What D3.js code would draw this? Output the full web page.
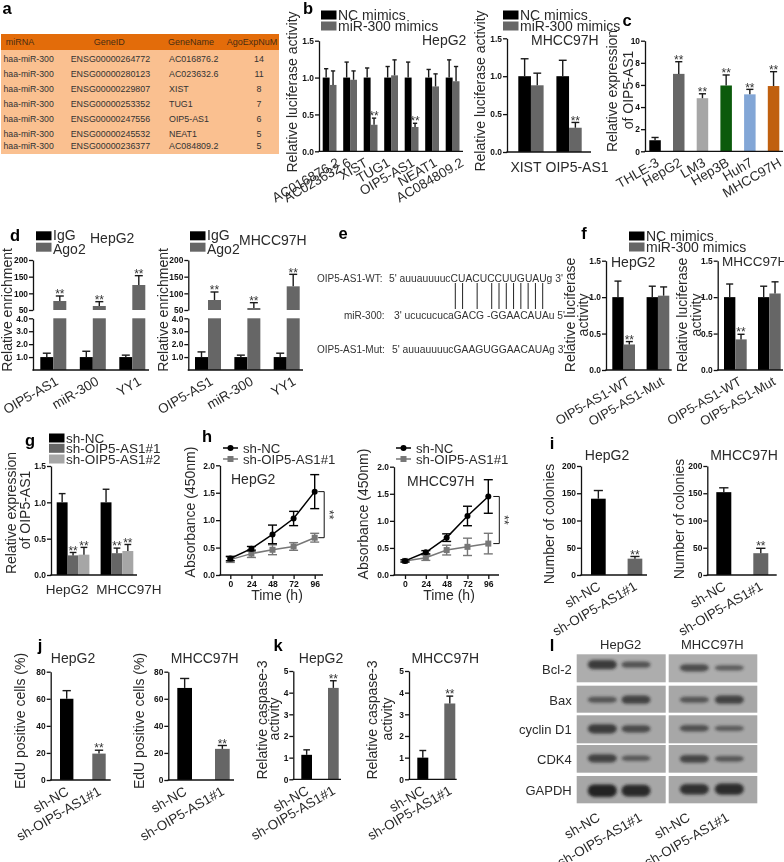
<!DOCTYPE html>
<html><head><meta charset="utf-8">
<style>html,body{margin:0;padding:0;background:#fff}svg{display:block;filter:blur(.45px)}text{font-family:"Liberation Sans",Arial,sans-serif}</style>
<script src="https://d3js.org/d3.v7.min.js"></script></head><body>
<script>
// ---------- data ----------
const tableHeader = ["miRNA","GeneID","GeneName","AgoExpNuM"];
const tableMirna = ["haa-miR-300","haa-miR-300","haa-miR-300","haa-miR-300","haa-miR-300","haa-miR-300","haa-miR-300"];
const tableGeneId = ["ENSG00000264772","ENSG00000280123","ENSG00000229807","ENSG00000253352","ENSG00000247556","ENSG00000245532","ENSG00000236377"];
const tableGeneName = ["AC016876.2","AC023632.6","XIST","TUG1","OIP5-AS1","NEAT1","AC084809.2"];
const tableAgo = [14,11,8,7,6,5,5];

const mimicNames = ["NC mimics","miR-300 mimics"];
const bCats = ["AC016876.2","AC023632.6","XIST","TUG1","OIP5-AS1","NEAT1","AC084809.2"];
const bNC = [1,1,1,1,1,1,1];
const bNCup = [1.12,1.21,1.13,1.15,1.21,1.11,1.24];
const bMiR = [0.90,0.97,0.36,1.03,0.33,0.88,0.95];
const bMiRup = [1.09,1.09,0.45,1.24,0.38,1.05,1.15];
const bSig = [0,0,1,0,1,0,0];
const b2Cats = ["XIST","OIP5-AS1"];
const b2NC = [1,1];
const b2NCup = [1.23,1.21];
const b2MiR = [0.88,0.32];
const b2MiRup = [1.04,0.39];
const b2Sig = [0,1];

const cCats = ["THLE-3","HepG2","LM3","Hep3B","Huh7","MHCC97H"];
const cVals = [1,7,4.8,5.95,5.15,5.9];
const cUp = [1.25,8.1,5.2,6.9,5.6,7.2];
const cSig = [0,1,1,1,1,1];

const dNames = ["IgG","Ago2"];
const dCats = ["OIP5-AS1","miR-300","YY1"];
const d1IgG = [1,1,1];
const d1IgGup = [1.3,1.45,1.15];
const d1Ago = [77,62,125];
const d1AgoUp = [92,75,153];
const d2IgG = [1,1,1];
const d2IgGup = [1.4,1.15,1.3];
const d2Ago = [80,56,121];
const d2AgoUp = [104,72,157];

const eWT = "5' auuauuuucCUACUCCUUGUAUg 3'";
const eMiR = "3' ucucucucaGACG -GGAACAUAu 5'";
const eMut = "5' auuauuuucGAAGUGGAACAUAg 3'";
const ePairs = [0,1,3,5,6,7,8,9,10,11,12];

const fCats = ["OIP5-AS1-WT","OIP5-AS1-Mut"];
const f1NC = [1,1];
const f1NCup = [1.22,1.15];
const f1MiR = [0.35,1.02];
const f1MiRup = [0.39,1.14];
const f2NC = [1,1];
const f2NCup = [1.18,1.15];
const f2MiR = [0.42,1.05];
const f2MiRup = [0.49,1.21];
const fSig = [1,0];

const gNames = ["sh-NC","sh-OIP5-AS1#1","sh-OIP5-AS1#2"];
const gCats = ["HepG2","MHCC97H"];
const gNC = [1,1];
const gNCup = [1.12,1.18];
const gS1 = [0.27,0.30];
const gS1up = [0.31,0.37];
const gS2 = [0.28,0.33];
const gS2up = [0.38,0.42];

const hTimes = [0,24,48,72,96];
const h1NC = [0.30,0.48,0.74,1.03,1.52];
const h1NCerr = [0.04,0.04,0.17,0.13,0.31];
const h1Sh = [0.28,0.39,0.46,0.52,0.68];
const h1ShErr = [0.05,0.07,0.09,0.07,0.08];
const h2NC = [0.26,0.42,0.69,1.09,1.45];
const h2NCerr = [0.02,0.03,0.07,0.18,0.31];
const h2Sh = [0.26,0.32,0.46,0.52,0.58];
const h2ShErr = [0.02,0.05,0.09,0.16,0.19];

const shCats = ["sh-NC","sh-OIP5-AS1#1"];
const i1Vals = [140,30];
const i1Up = [155,34];
const i2Vals = [152,40];
const i2Up = [160,49];
const j1Vals = [60,19.5];
const j1Up = [66,22];
const j2Vals = [68,23];
const j2Up = [75,25.5];
const k1Vals = [1.13,4.22];
const k1Up = [1.36,4.55];
const k2Vals = [1,3.5];
const k2Up = [1.33,3.84];
const shSig = [0,1];

const blotProteins = ["Bcl-2","Bax","cyclin D1","CDK4","GAPDH"];
const blotHepNC = [0.72,0.40,0.70,0.62,1.00];
const blotHepSh = [0.45,0.62,0.52,0.36,0.92];
const blotMhNC = [0.52,0.40,0.46,0.58,0.82];
const blotMhSh = [0.34,0.62,0.34,0.38,0.88];

// ---------- helpers ----------
const svg = d3.select("body").append("svg").attr("width",784).attr("height",862).attr("viewBox","0 0 784 862");
const BLACK="#000", GREY="#666666", LGREY="#a6a6a6", TXT="#2a2a2a";
const defs = svg.append("defs");
defs.append("filter").attr("id","bandblur").attr("x","-30%").attr("y","-80%").attr("width","160%").attr("height","260%")
  .append("feGaussianBlur").attr("stdDeviation",1.5);

function label(x,y,s,o={}){
  return svg.append("text").attr("transform",`translate(${x},${y})`+(o.rot?` rotate(${o.rot})`:""))
   .attr("font-size",o.size||14).attr("font-weight",o.weight||"normal").attr("fill",o.fill||TXT)
   .attr("text-anchor",o.anchor||"start").attr("dominant-baseline",o.base||"central").text(s);
}
const ylab=(x,y,s,size)=>label(x,y,s,{rot:-90,anchor:"middle",size:size||14});
const letter=(x,y,s)=>label(x,y,s,{size:16.5,weight:"bold",fill:"#000",anchor:"middle"});

function styleAxis(sel,size){
  sel.attr("font-family",null);
  sel.selectAll("text").attr("font-size",size||8.4).attr("font-weight","bold").attr("fill","#111").style("font-family",'"Liberation Sans"');
  sel.selectAll("path,line").attr("stroke","#111").attr("stroke-width",1.3);
}
function errorBar(g,x,y0,y1,capW,color){
  g.append("line").attr("x1",x).attr("x2",x).attr("y1",y0).attr("y2",y1).attr("stroke",color).attr("stroke-width",1.4);
  g.append("line").attr("x1",x-capW/2).attr("x2",x+capW/2).attr("y1",y1).attr("y2",y1).attr("stroke",color).attr("stroke-width",1.4);
}
function stars(g,x,capY){
  g.append("text").attr("x",x).attr("y",capY+2.2).attr("text-anchor","middle").attr("font-size",12).attr("fill","#333").text("**");
}
function groupScale(cats,L,R,w){
  const step=(R-L-w)/(cats.length-1);
  return d3.scaleBand().domain(cats).range([L,R]).paddingInner(1-w/step).paddingOuter(0).align(0);
}
// x labels under a plot, through d3's band axis
function xLabels(g,x,base,o){
  const ax=g.append("g").attr("transform",`translate(0,${base})`).call(d3.axisBottom(x).tickSize(0));
  ax.select(".domain").remove();
  ax.selectAll("text").attr("font-size",o.size||13.5).attr("font-weight","normal").attr("fill",TXT)
    .style("font-family",'"Liberation Sans"').attr("y",0).attr("dy",0).attr("text-anchor",o.rot?"end":"middle")
    .attr("transform",(d,i)=>`translate(${(o.dx||0)+(o.shift?o.shift[i]:0)},${(o.dy==null?14:o.dy)}) rotate(${o.rot||0})`);
}
function barPanel(o){
  const g=svg.append("g");
  const y=d3.scaleLinear().domain([0,o.max]).range([o.base,o.top]);
  const x=groupScale(o.cats,o.L,o.R,o.w);
  const inner=d3.scaleBand().domain(o.series.map(s=>s.name)).range([0,x.bandwidth()]);
  o.series.forEach(s=>{
    o.cats.forEach((c,i)=>{
      const bx=x(c)+inner(s.name), col=s.colors?s.colors[i]:s.color;
      g.append("rect").attr("x",bx).attr("width",inner.bandwidth()).attr("y",y(s.values[i])).attr("height",y(0)-y(s.values[i])).attr("fill",col);
      errorBar(g,bx+inner.bandwidth()/2,y(s.values[i]),y(s.up[i]),inner.bandwidth()*0.62,"#1a1a1a");
      if(s.sig&&s.sig[i]) stars(g,bx+inner.bandwidth()/2,y(s.up[i]));
    });
  });
  const ay=g.append("g").attr("transform",`translate(${o.ax},0)`).call(d3.axisLeft(y).tickValues(o.ticks).tickFormat(o.fmt||d3.format("d")).tickSize(4).tickSizeOuter(0).tickPadding(1));
  styleAxis(ay);
  g.append("line").attr("x1",o.ax-.6).attr("x2",o.end).attr("y1",o.base).attr("y2",o.base).attr("stroke","#111").attr("stroke-width",1.3);
  xLabels(g,x,o.base,o.labels);
  return {x,y,g};
}
function legend(x,ys,names,colors,o={}){
  names.forEach((n,i)=>{
    svg.append("rect").attr("x",x).attr("y",ys[i]-4.5).attr("width",o.sw||15.5).attr("height",9).attr("fill",colors[i]);
    label(x+(o.sw||15.5)+1.5,o.tys?o.tys[i]:ys[i],n,{size:o.size||14});
  });
}

// ---------- a: table ----------
svg.append("rect").attr("x",1).attr("y",34).attr("width",278).attr("height",120).attr("fill","#fac090");
svg.append("rect").attr("x",1).attr("y",34).attr("width",278).attr("height",16).attr("fill","#e36c0a");
[5.7,93.7,168,226.7].forEach((x,i)=>label(x,42.3,tableHeader[i],{size:9,fill:"#4a2c12"}));
const rowY=[58.7,74.3,89.3,103.7,118.7,133.7,146];
rowY.forEach((y,i)=>{
  label(3.5,y,tableMirna[i],{size:8.7,fill:"#333"});
  label(70.7,y,tableGeneId[i],{size:8.9,fill:"#333"});
  label(169,y,tableGeneName[i],{size:8.9,fill:"#333"});
  label(259,y,tableAgo[i],{size:8.9,fill:"#333",anchor:"middle"});
});
letter(7,8,"a");letter(308,8,"b");letter(627,20,"c");letter(15,235,"d");letter(343,233,"e");letter(584,233,"f");
letter(30,440,"g");letter(207,436,"h");letter(552,443,"i");letter(40,645,"j");letter(278,645,"k");letter(552,645,"l");

// ---------- b ----------
const f1=d3.format(".1f");
barPanel({cats:bCats,max:1.5,top:40.7,base:151.3,ax:319,end:463,L:322.7,R:459.5,w:13.8,ticks:[0,.5,1,1.5],fmt:f1,
 series:[{name:mimicNames[0],values:bNC,up:bNCup,color:BLACK},{name:mimicNames[1],values:bMiR,up:bMiRup,color:GREY,sig:bSig}],
 labels:{rot:-30,dx:4,shift:[7,-2,-6,-4,0,2,8]}});
legend(321,[15,26],mimicNames,[BLACK,GREY]);
label(422,40,"HepG2");
ylab(292,92,"Relative luciferase activity");
barPanel({cats:b2Cats,max:1.5,top:38.3,base:152,ax:507,end:591,L:518.3,R:581.7,w:25.3,ticks:[0,.5,1,1.5],fmt:f1,
 series:[{name:mimicNames[0],values:b2NC,up:b2NCup,color:BLACK},{name:mimicNames[1],values:b2MiR,up:b2MiRup,color:GREY,sig:b2Sig}],
 labels:{dy:20,size:14,shift:[-5,8]}});
legend(503,[15,26],mimicNames,[BLACK,GREY]);
label(531,40,"MHCC97H");
ylab(480,91,"Relative luciferase activity");

// ---------- c ----------
barPanel({cats:cCats,max:10,top:40.7,base:151.3,ax:645,end:783,L:649.3,R:779.3,w:11.5,ticks:[0,2,4,6,8,10],
 series:[{name:"expr",values:cVals,up:cUp,colors:[BLACK,GREY,LGREY,"#0b5a0b","#82a6d6","#c0600f"],sig:cSig}],
 labels:{rot:-30,dx:4,shift:[1,0,0,0,0,5]}});
ylab(612,91,"Relative expression");ylab(628,90,"of OIP5-AS1");

// ---------- d ----------
function brokenPanel(o){
  const g=svg.append("g");
  const yLow=d3.scaleLinear().domain([0,4]).range([370,318.3]);
  const yHigh=d3.scaleLinear().domain([50,200]).range([310,260]);
  const x=groupScale(dCats,o.L,o.R,o.w);
  const inner=d3.scaleBand().domain(dNames).range([0,x.bandwidth()]);
  dCats.forEach((c,i)=>{
    const bx=x(c);
    g.append("rect").attr("x",bx).attr("width",inner.bandwidth()).attr("y",yLow(o.igg[i])).attr("height",yLow(0)-yLow(o.igg[i])).attr("fill",BLACK);
    errorBar(g,bx+inner.bandwidth()/2,yLow(o.igg[i]),yLow(o.iggUp[i]),8,"#1a1a1a");
    const bx2=bx+inner(dNames[1]);
    g.append("rect").attr("x",bx2).attr("width",inner.bandwidth()).attr("y",yLow(4)).attr("height",yLow(0)-yLow(4)).attr("fill",GREY);
    g.append("rect").attr("x",bx2).attr("width",inner.bandwidth()).attr("y",yHigh(o.ago[i])).attr("height",yHigh(50)-yHigh(o.ago[i])).attr("fill",GREY);
    errorBar(g,bx2+inner.bandwidth()/2,yHigh(o.ago[i]),yHigh(o.agoUp[i]),8,"#1a1a1a");
    stars(g,bx2+inner.bandwidth()/2,yHigh(o.agoUp[i]));
  });
  styleAxis(g.append("g").attr("transform",`translate(${o.ax},0)`).call(d3.axisLeft(yHigh).tickValues([50,100,150,200]).tickSize(4).tickSizeOuter(0).tickPadding(1)));
  styleAxis(g.append("g").attr("transform",`translate(${o.ax},0)`).call(d3.axisLeft(yLow).tickValues([1,2,3,4]).tickSize(4).tickSizeOuter(0).tickPadding(1)));
  g.append("line").attr("x1",o.ax-.6).attr("x2",o.end).attr("y1",yLow(0)).attr("y2",yLow(0)).attr("stroke","#111").attr("stroke-width",1.3);
  xLabels(g,x,yLow(0),{rot:-30,dx:8,dy:14,size:13.5,shift:[-2,-1,2]});
}
brokenPanel({ax:33,end:149,L:40.3,R:145.3,w:26,igg:d1IgG,iggUp:d1IgGup,ago:d1Ago,agoUp:d1AgoUp});
brokenPanel({ax:188.3,end:303,L:195,R:299.7,w:26,igg:d2IgG,iggUp:d2IgGup,ago:d2Ago,agoUp:d2AgoUp});
legend(36,[235.8,247.2],dNames,[BLACK,GREY],{tys:[235,249]});
legend(190,[235.8,247.2],dNames,[BLACK,GREY],{tys:[235,249]});
label(90,238,"HepG2");label(239,240,"MHCC97H");
ylab(7,310,"Relative enrichment");ylab(163,310,"Relative enrichment");

// ---------- e ----------
label(317,278,"OIP5-AS1-WT:",{size:10,fill:"#333"});
label(389,278,eWT,{size:10.3,fill:"#333"});
label(344,315.7,"miR-300:",{size:10,fill:"#333"});
label(394,315.7,eMiR,{size:10.3,fill:"#333"});
label(317,349.7,"OIP5-AS1-Mut:",{size:10,fill:"#333"});
label(392,349.7,eMut,{size:10.3,fill:"#333"});
const ePair=d3.scaleLinear().domain([0,12]).range([455.3,542.7]);
svg.selectAll(".pair").data(ePairs).join("line").attr("x1",d=>ePair(d)).attr("x2",d=>ePair(d)).attr("y1",283).attr("y2",309).attr("stroke","#222").attr("stroke-width",1);

// ---------- f ----------
barPanel({cats:fCats,max:1.5,top:260.7,base:370,ax:606,end:671.7,L:612.3,R:669.3,w:22.7,ticks:[0,.5,1,1.5],fmt:f1,
 series:[{name:mimicNames[0],values:f1NC,up:f1NCup,color:BLACK},{name:mimicNames[1],values:f1MiR,up:f1MiRup,color:GREY,sig:fSig}],
 labels:{rot:-30,dx:7,size:13}});
barPanel({cats:fCats,max:1.5,top:260.7,base:370,ax:717.7,end:783,L:724,R:780.7,w:22.7,ticks:[0,.5,1,1.5],fmt:f1,
 series:[{name:mimicNames[0],values:f2NC,up:f2NCup,color:BLACK},{name:mimicNames[1],values:f2MiR,up:f2MiRup,color:GREY,sig:fSig}],
 labels:{rot:-30,dx:7,size:13}});
legend(629,[236,247],mimicNames,[BLACK,GREY]);
label(611,261.7,"HepG2");label(722,261.7,"MHCC97H",{size:13.5});
ylab(570,315,"Relative luciferase");ylab(583,315,"activity");
ylab(681.7,315,"Relative luciferase");ylab(695.7,315,"activity");

// ---------- g ----------
barPanel({cats:gCats,max:1.5,top:466,base:575,ax:51,end:137,L:56.7,R:133.3,w:32.7,ticks:[0,.5,1,1.5],fmt:f1,
 series:[{name:gNames[0],values:gNC,up:gNCup,color:BLACK},
         {name:gNames[1],values:gS1,up:gS1up,color:GREY,sig:[1,1]},
         {name:gNames[2],values:gS2,up:gS2up,color:LGREY,sig:[1,1]}],
 labels:{dy:19,size:13.5,shift:[-6,12]}});
legend(49,[438,448.3,459],gNames,[BLACK,GREY,LGREY],{size:13.5});
ylab(11,513,"Relative expression");ylab(25,510,"of OIP5-AS1");

// ---------- h ----------
function linePanel(o){
  const g=svg.append("g");
  const x=d3.scalePoint().domain(hTimes).range([o.x0,o.x1]);
  const y=d3.scaleLinear().domain([0,2]).range([575,o.top]);
  const ln=d3.line().x((d,i)=>x(hTimes[i])).y(d=>y(d));
  [{v:o.sh,e:o.shErr,c:"#777",sq:true},{v:o.nc,e:o.ncErr,c:"#000",sq:false}].forEach(s=>{
    g.append("path").attr("d",ln(s.v)).attr("fill","none").attr("stroke",s.c).attr("stroke-width",1.5);
    s.v.forEach((v,i)=>{
      const px=x(hTimes[i]);
      errorBar(g,px,y(v-s.e[i]),y(v+s.e[i]),9,s.c);
      g.append("line").attr("x1",px-4.5).attr("x2",px+4.5).attr("y1",y(v-s.e[i])).attr("y2",y(v-s.e[i])).attr("stroke",s.c).attr("stroke-width",1.4);
      if(s.sq) g.append("rect").attr("x",px-3).attr("y",y(v)-3).attr("width",6).attr("height",6).attr("fill",s.c);
      else g.append("circle").attr("cx",px).attr("cy",y(v)).attr("r",3).attr("fill",s.c);
    });
  });
  styleAxis(g.append("g").attr("transform",`translate(${o.ax},0)`).call(d3.axisLeft(y).tickValues([0,.5,1,1.5,2]).tickFormat(f1).tickSize(4).tickSizeOuter(0).tickPadding(1)));
  const ax=g.append("g").attr("transform","translate(0,575)").call(d3.axisBottom(x).tickSize(4).tickSizeOuter(0).tickPadding(2));
  styleAxis(ax,8.6);
  ax.select(".domain").remove();
  g.append("line").attr("x1",o.ax-.6).attr("x2",o.end).attr("y1",575).attr("y2",575).attr("stroke","#111").attr("stroke-width",1.3);
  const n=o.nc.length-1, bx=x(hTimes[n])+o.bo;
  g.append("path").attr("d",`M${bx-6},${y(o.nc[n])}H${bx}V${y(o.sh[n])}H${bx-6}`).attr("fill","none").attr("stroke","#111").attr("stroke-width",1);
  label(bx+5,(y(o.nc[n])+y(o.sh[n]))/2,"**",{size:12,rot:90,anchor:"middle",fill:"#333"});
  // legend
  const ly=[o.ly0,o.ly0+11];
  g.append("line").attr("x1",o.lx).attr("x2",o.lx+15).attr("y1",ly[0]).attr("y2",ly[0]).attr("stroke","#000").attr("stroke-width",1.5);
  g.append("circle").attr("cx",o.lx+7.5).attr("cy",ly[0]).attr("r",3).attr("fill","#000");
  g.append("line").attr("x1",o.lx).attr("x2",o.lx+15).attr("y1",ly[1]).attr("y2",ly[1]).attr("stroke","#777").attr("stroke-width",1.5);
  g.append("rect").attr("x",o.lx+4.5).attr("y",ly[1]-3).attr("width",6).attr("height",6).attr("fill","#777");
  label(o.lx+20,ly[0],shCats[0],{size:13.2});label(o.lx+20,ly[1],shCats[1],{size:13.2});
}
linePanel({ax:220,end:323,x0:230.3,x1:314.7,top:465.3,nc:h1NC,ncErr:h1NCerr,sh:h1Sh,shErr:h1ShErr,bo:9.5,lx:223,ly0:448});
linePanel({ax:394,end:499,x0:405,x1:488.3,top:466.7,nc:h2NC,ncErr:h2NCerr,sh:h2Sh,shErr:h2ShErr,bo:11,lx:396,ly0:448});
label(231,479,"HepG2");label(407,480.7,"MHCC97H");
ylab(190,512,"Absorbance (450nm)");ylab(363,514,"Absorbance (450nm)");
label(277,595,"Time (h)",{anchor:"middle"});label(449,595,"Time (h)",{anchor:"middle"});

// ---------- i ----------
const shLab={rot:-30,dx:3,size:13.5,dy:14};
barPanel({cats:shCats,max:200,top:466,base:575,ax:581,end:647,L:591,R:642.3,w:14.7,ticks:[0,50,100,150,200],
 series:[{name:"v",values:i1Vals,up:i1Up,colors:[BLACK,GREY],sig:shSig}],labels:shLab});
barPanel({cats:shCats,max:200,top:466,base:575,ax:707.3,end:776.7,L:716.3,R:768.3,w:15,ticks:[0,50,100,150,200],
 series:[{name:"v",values:i2Vals,up:i2Up,colors:[BLACK,GREY],sig:shSig}],labels:shLab});
label(607,455,"HepG2",{anchor:"middle"});label(744,455,"MHCC97H",{anchor:"middle"});
ylab(549,524,"Number of colonies");ylab(679.3,519,"Number of colonies");

// ---------- j ----------
barPanel({cats:shCats,max:80,top:671.7,base:780,ax:50.7,end:110.7,L:60,R:105.7,w:13.4,ticks:[0,20,40,60,80],
 series:[{name:"v",values:j1Vals,up:j1Up,colors:[BLACK,GREY],sig:shSig}],labels:shLab});
barPanel({cats:shCats,max:80,top:671.7,base:780,ax:168.3,end:234,L:177.3,R:229.7,w:14.7,ticks:[0,20,40,60,80],
 series:[{name:"v",values:j2Vals,up:j2Up,colors:[BLACK,GREY],sig:shSig}],labels:shLab});
label(73,657.7,"HepG2",{anchor:"middle"});label(204.7,657.7,"MHCC97H",{anchor:"middle"});
ylab(20,721,"EdU positive cells (%)");ylab(139,721,"EdU positive cells (%)");

// ---------- k ----------
barPanel({cats:shCats,max:5,top:671,base:779.3,ax:293.3,end:341,L:301.3,R:338.7,w:10.7,ticks:[0,1,2,3,4,5],
 series:[{name:"v",values:k1Vals,up:k1Up,colors:[BLACK,GREY],sig:shSig}],labels:shLab});
barPanel({cats:shCats,max:5,top:671,base:779.3,ax:409,end:456.7,L:417.3,R:455.3,w:11,ticks:[0,1,2,3,4,5],
 series:[{name:"v",values:k2Vals,up:k2Up,colors:[BLACK,GREY],sig:shSig}],labels:shLab});
label(321,657.7,"HepG2",{anchor:"middle"});label(445.3,657.7,"MHCC97H",{anchor:"middle"});
ylab(262,720,"Relative caspase-3");ylab(274,719,"activity");
ylab(372.3,720,"Relative caspase-3");ylab(386.7,719,"activity");

// ---------- l: blots ----------
const blotRows=[[654.3,682.3],[685.7,712.7],[715.3,743.3],[745,772.7],[776,803.3]];
const bandH=d3.scaleLinear().domain([0,1]).range([1.5,12.5]);
const bandOp=d3.scaleLinear().domain([0,1]).range([.35,.95]);
function blot(x0,x1,lanes,nc,sh,rowDy){
  const lane=d3.scalePoint().domain(shCats).range(lanes);
  blotProteins.forEach((p,i)=>{
    const [t,b]=blotRows[i];
    svg.append("rect").attr("x",x0).attr("y",t).attr("width",x1-x0).attr("height",b-t).attr("fill",i==0?"#adadad":"#a7a7a7");
    [nc[i],sh[i]].forEach((v,j)=>{
      svg.append("rect").attr("x",lane(shCats[j])-14.5).attr("width",29).attr("y",(t+b)/2+rowDy[i]-bandH(v)/2).attr("height",bandH(v))
       .attr("rx",6).attr("ry",bandH(v)/2).attr("fill","#1c1c1c").attr("opacity",bandOp(v)).attr("filter","url(#bandblur)");
    });
  });
}
blot(576.7,665.7,[602.3,636],blotHepNC,blotHepSh,[-11/3,.5,-.5,-.5,1]);
blot(668.7,757.3,[694.3,729.3],blotMhNC,blotMhSh,[-.5,.5,-1,0,-.5]);
const ly=[669,700,729,759.7,790];
blotProteins.forEach((p,i)=>label(571.7,ly[i],p,{size:13,anchor:"end"}));
label(620.7,644.3,"HepG2",{anchor:"middle",size:13});label(712.3,644.3,"MHCC97H",{anchor:"middle",size:13});
[[601,643],[691,730]].forEach(e=>{
  label(e[0],820,shCats[0],{size:13.5,anchor:"end",rot:-30,base:"auto"});
  label(e[1],820,shCats[1],{size:13.5,anchor:"end",rot:-30,base:"auto"});
});
</script></body></html>
